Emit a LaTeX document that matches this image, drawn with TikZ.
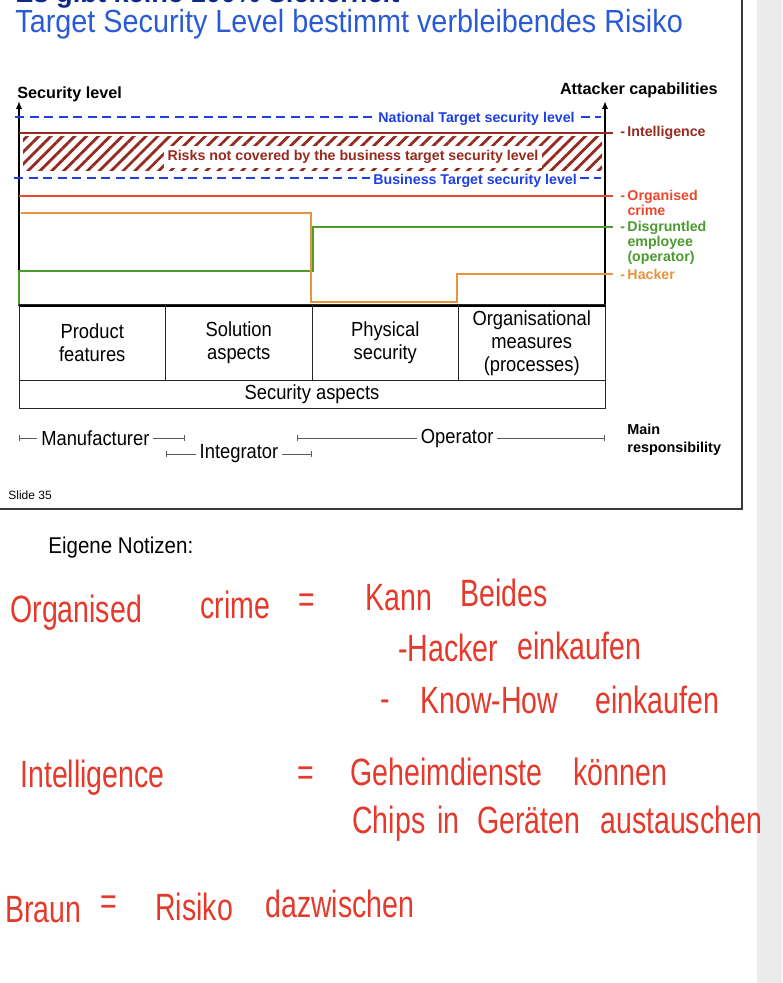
\documentclass[tikz,border=0pt]{standalone}
\usepackage{fontspec}
\setmainfont{Liberation Sans}
\newfontfamily\handfont[FakeStretch=0.75]{Liberation Sans}
\newfontfamily\cellfont[FakeStretch=0.9]{Liberation Sans}
\usetikzlibrary{positioning,patterns.meta,arrows.meta}

\definecolor{titleblue}{HTML}{2A5BD7}
\definecolor{navy}{HTML}{0B2A8A}
\definecolor{lvlblue}{HTML}{1E3FE6}
\definecolor{intelred}{HTML}{962A1F}
\definecolor{crimered}{HTML}{E8492E}
\definecolor{empgreen}{HTML}{4B9B2F}
\definecolor{hackorange}{HTML}{E6953A}
\definecolor{inkred}{HTML}{E5392B}
\definecolor{framegrey}{HTML}{3A3A3A}
\definecolor{stripgrey}{HTML}{EBEBEB}

\tikzset{
  axislabel/.style={font=\bfseries\fontsize{8.1}{9}\selectfont, inner sep=0pt},
  mainlabel/.style={font=\bfseries\fontsize{7.2}{9}\selectfont, inner sep=0pt},
  levellabel/.style={font=\bfseries\fontsize{7.1}{8.5}\selectfont, text=lvlblue, fill=white, inner sep=1.5pt},
  attacker/.style={font=\bfseries\fontsize{7.1}{7.5}\selectfont, align=left, inner sep=0pt},
  cell/.style={draw=black!85, line width=0.5pt, outer sep=0pt, minimum width=73.25pt, minimum height=38pt, align=center, font=\cellfont\fontsize{10.2}{11.5}\selectfont, inner sep=0pt},
  resp/.style={{Bar[width=3pt]}-{Bar[width=3pt]}, draw=black!65, line width=0.4pt},
  resplabel/.style={fill=white, font=\cellfont\fontsize{10.2}{11}\selectfont, inner sep=2pt},
  note/.style={text=inkred, font=\handfont\fontsize{19}{22}\selectfont, anchor=base west, inner sep=0pt},
  level/.style={line width=1pt},
  target/.style={lvlblue, line width=1pt, dash pattern=on 4.5pt off 2.75pt}
}

\begin{document}
\begin{tikzpicture}[x=0.5pt, y=-0.5pt]
\useasboundingbox (0,0) rectangle (782,983);
\fill[white] (0,0) rectangle (782,983);
\fill[stripgrey] (757,0) rectangle (782,983);
\draw[framegrey, line width=0.8pt] (742,0) -- (742,509) -- (0,509);

% title
\node[anchor=base west, inner sep=0pt, text=navy, font=\bfseries\fontsize{13.6}{16}\selectfont] (title) at (15,3) {Es gibt keine 100\% Sicherheit};
\node[anchor=base west, inner sep=0pt, text=titleblue, font=\cellfont\fontsize{16}{17}\selectfont] (subtitle) at (15,33) {Target Security Level bestimmt verbleibendes Risiko};

% axes
\coordinate (axisL) at (19,306);
\coordinate (axisR) at (605,306);
\coordinate (topL) at (19,101);
\coordinate (topR) at (605,101);
\draw[line width=1.2pt, -{Latex[length=4pt,width=3.2pt]}] (axisL) -- (topL);
\draw[line width=1.2pt, -{Latex[length=4pt,width=3.2pt]}] (axisR) -- (topR);
\draw[line width=1.2pt] (axisL) -- (axisR);
\node[axislabel, anchor=base west] (seclvl) at (17,99) {Security level};
\node[axislabel, anchor=base east] (attcap) at (718,95) {Attacker capabilities};

% target levels
\draw[target] (15,117) -- (601,117);
\node[levellabel, anchor=west] (natlbl) at (375,119) {National Target security level};
\draw[intelred, level] (19,133) -- (613,133);
\fill[pattern={Lines[angle=45,distance=4.2pt,line width=1.4pt]}, pattern color=intelred] (23,137) rectangle (602,171);
\node[fill=white, text=intelred, font=\bfseries\fontsize{7.1}{8.5}\selectfont, inner sep=2pt] (risklbl) at (353,157) {Risks not covered by the business target security level};
\draw[target] (14,178) -- (601,178);
\node[levellabel, anchor=west] (buslbl) at (370,181) {Business Target security level};

% attackers
\draw[crimered, level] (19,196) -- (613,196);
\draw[empgreen, level] (19,305) -- (19,271) -- (313,271) -- (313,227) -- (613,227);
\draw[hackorange, level] (21,213) -- (311,213) -- (311,302) -- (457,302) -- (457,274) -- (613,274);
\node[attacker, anchor=west, text=intelred] (intel) at (620,133) {-\,Intelligence};
\node[attacker, anchor=north west, text=crimered] (crime) at (620,190) {-\,Organised\\\phantom{-\,}crime};
\node[attacker, anchor=north west, text=empgreen] (employee) at (620,221) {-\,Disgruntled\\\phantom{-\,}employee\\\phantom{-\,}(operator)};
\node[attacker, anchor=west, text=hackorange] (hacker) at (620,274) {-\,Hacker};

% security aspects
\node[cell] (prod) at (92.25,343) {Product\\features};
\node[cell, right=0pt of prod] (sol) {Solution\\aspects};
\node[cell, right=0pt of sol] (phys) {Physical\\security};
\node[cell, right=0pt of phys] (org) {Organisational\\measures\\(processes)};
\node[cell, anchor=north west, minimum width=293pt, minimum height=13.5pt] (aspects) at (prod.south west) {Security aspects};

% responsibility
\coordinate (mfgA) at (19,438);
\coordinate (mfgB) at (185,438);
\coordinate (intA) at (166,454);
\coordinate (intB) at (312,454);
\coordinate (opA) at (297,438);
\coordinate (opB) at (605,438);
\draw[resp] (mfgA) -- node[resplabel, pos=.46] (mfg) {Manufacturer} (mfgB);
\draw[resp] (intA) -- node[resplabel] (integ) {Integrator} (intB);
\draw[resp] (opA) -- node[resplabel, pos=.52] (oper) {Operator} (opB);
\node[mainlabel, anchor=north west, align=left] (mainresp) at (627,424) {Main\\responsibility};

\node[anchor=base west, inner sep=0pt, font=\fontsize{6}{7}\selectfont] (slideno) at (8,499) {Slide 35};

% notes
\node[anchor=base west, inner sep=0pt, font=\cellfont\fontsize{11.4}{12}\selectfont] (notes) at (48,553) {Eigene Notizen:};
\node[note] (oc) at (10,622) {Organised};
\node[note] (oc2) at (200,618) {crime};
\node[note] (eq1) at (298,612) {=};
\node[note] (kann) at (365,610) {Kann};
\node[note] (beides) at (460,606) {Beides};
\node[note] (hk) at (398,661) {-Hacker};
\node[note] (hk2) at (517,659) {einkaufen};
\node[note] (kh) at (380,711) {-};
\node[note] (kh2) at (420,713) {Know-How};
\node[note] (kh3) at (595,713) {einkaufen};
\node[note] (intl) at (20,787) {Intelligence};
\node[note] (eq2) at (297,785) {=};
\node[note] (gd) at (350,785) {Geheimdienste};
\node[note] (gd2) at (573,785) {können};
\node[note] (ch) at (352,833) {Chips};
\node[note] (ch2) at (437,833) {in};
\node[note] (ch3) at (477,833) {Geräten};
\node[note] (ch4) at (600,833) {austauschen};
\node[note] (br) at (5,922) {Braun};
\node[note] (eq3) at (100,914) {=};
\node[note] (rs) at (155,920) {Risiko};
\node[note] (rs2) at (265,917) {dazwischen};
\end{tikzpicture}
\end{document}
